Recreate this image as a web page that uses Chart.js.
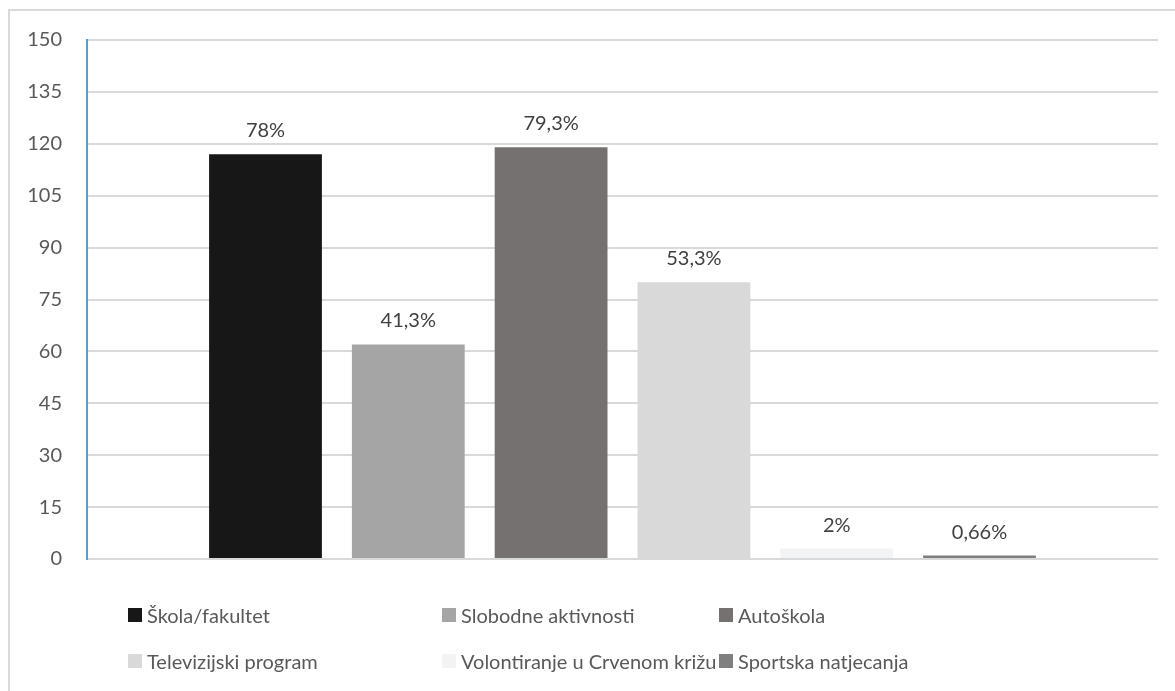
<!DOCTYPE html>
<html>
<head>
<meta charset="utf-8">
<script src="https://cdn.jsdelivr.net/npm/chart.js@4.4.1/dist/chart.umd.min.js"></script>
<style>
  html, body { margin: 0; padding: 0; background: #fff; }
  #wrap { position: relative; width: 1175px; height: 691px; overflow: hidden; }
  #frame { position: absolute; left: 8px; top: 9px; width: 1180px; height: 690px; border: 2px solid #d9d9d9; box-sizing: border-box; }
  #chart { position: absolute; left: 0; top: 0; }
  #legend { position: absolute; left: 128px; top: 592px; display: grid; grid-template-columns: 314px 277px auto; row-gap: 0; }
  .item { height: 46px; display: flex; align-items: center; font-family: Lato, "Open Sans", sans-serif; font-size: 20px; color: #595959; white-space: nowrap; }
  .box { width: 14px; height: 14px; margin-right: 5px; flex: none; }
</style>
</head>
<body>
<div id="wrap">
  <div id="frame"></div>
  <canvas id="chart" width="1175" height="691"></canvas>
  <div id="legend"></div>
</div>
<script>
// Series (one bar each)
var seriesNames = ['Škola/fakultet', 'Slobodne aktivnosti', 'Autoškola', 'Televizijski program', 'Volontiranje u Crvenom križu', 'Sportska natjecanja'];
var seriesValues = [117, 62, 119, 80, 3, 1];
var seriesPercents = ['78%', '41,3%', '79,3%', '53,3%', '2%', '0,66%'];
var seriesColors = ['#171717', '#a5a5a5', '#767171', '#d9d9d9', '#f2f3f5', '#7f7f7f'];
var yTicks = [0, 15, 30, 45, 60, 75, 90, 105, 120, 135, 150];

var fontFamily = 'Lato, "Open Sans", sans-serif';

var datasets = seriesNames.map(function (name, i) {
    return {
        label: name,
        data: [seriesValues[i]],
        backgroundColor: seriesColors[i],
        categoryPercentage: 0.8,
        barPercentage: 0.79
    };
});

// draws the percentage over each bar
var pctLabels = {
    id: 'pctLabels',
    afterDatasetsDraw: function (chart) {
        var ctx = chart.ctx;
        ctx.save();
        ctx.font = '20px ' + fontFamily;
        ctx.fillStyle = '#404040';
        ctx.textAlign = 'center';
        ctx.textBaseline = 'alphabetic';
        chart.data.datasets.forEach(function (ds, i) {
            var bar = chart.getDatasetMeta(i).data[0];
            ctx.fillText(seriesPercents[i], bar.x, bar.y - 17);
        });
        ctx.restore();
    }
};

var ctx = document.getElementById('chart').getContext('2d');
var chart = new Chart(ctx, {
    type: 'bar',
    data: { labels: [''], datasets: datasets },
    options: {
        responsive: false,
        animation: false,
        layout: { padding: { top: 40, right: 17, bottom: 132, left: 0 } },
        plugins: { legend: { display: false }, tooltip: { enabled: false } },
        scales: {
            x: { display: false },
            y: {
                min: 0,
                max: 150,
                afterBuildTicks: function (axis) {
                    axis.ticks = yTicks.map(function (v) { return { value: v }; });
                },
                afterFit: function (axis) { axis.width = 87; },
                grid: { color: '#d9d9d9', lineWidth: 2, drawTicks: false },
                border: { color: '#5b9bd5', width: 2 },
                ticks: { padding: 25, color: '#595959', font: { family: fontFamily, size: 20 } }
            }
        }
    },
    plugins: [pctLabels]
});

// legend in three columns like the original
var legend = document.getElementById('legend');
seriesNames.forEach(function (name, i) {
    var item = document.createElement('div');
    item.className = 'item';
    item.innerHTML = '<span class="box" style="background:' + seriesColors[i] + '"></span>' + name;
    legend.appendChild(item);
});
</script>
</body>
</html>
